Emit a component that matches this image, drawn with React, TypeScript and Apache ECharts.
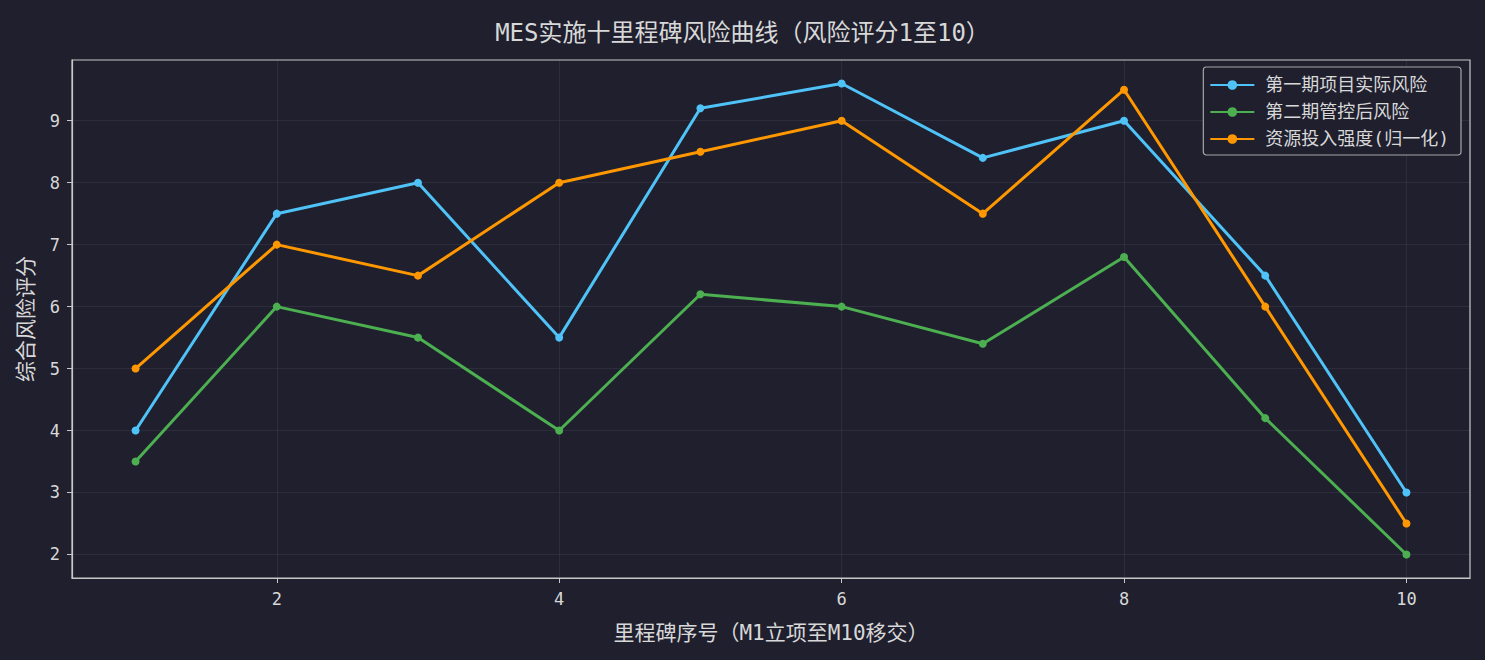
import React, { useEffect, useRef } from 'react';
import * as echarts from 'echarts';

const milestones = [1, 2, 3, 4, 5, 6, 7, 8, 9, 10];
const phaseOneRisk = [4, 7.5, 8, 5.5, 9.2, 9.6, 8.4, 9.0, 6.5, 3.0];
const phaseTwoRisk = [3.5, 6, 5.5, 4, 6.2, 6, 5.4, 6.8, 4.2, 2.0];
const resourceIntensity = [5, 7, 6.5, 8, 8.5, 9, 7.5, 9.5, 6, 2.5];
const xTicks = [2, 4, 6, 8, 10];
const yTicks = [2, 3, 4, 5, 6, 7, 8, 9];

const seriesNames = ['第一期项目实际风险', '第二期管控后风险', '资源投入强度(归一化)'];
const seriesColors = ['#4fc3f7', '#4caf50', '#ff9800'];

const FONT = '"DejaVu Sans Mono", "Noto Sans CJK SC", monospace';
const TEXT = '#d8d8d8';
const FRAME = '#c8c8c8';
const GRID = 'rgba(255,255,255,0.06)';
const BG = '#1f1f2e';

const App: React.FC = () => {
  const chartRef = useRef<HTMLDivElement>(null);

  useEffect(() => {
    document.body.style.margin = '0';
    document.body.style.background = BG;
    if (!chartRef.current) return;
    const chart = echarts.init(chartRef.current, null, { renderer: 'svg' });

    const toPairs = (vals: number[]) => milestones.map((m, i) => [m, vals[i]]);
    const datasets = [phaseOneRisk, phaseTwoRisk, resourceIntensity];

    const option: echarts.EChartsOption = {
      animation: false,
      backgroundColor: BG,
      textStyle: { fontFamily: FONT },
      title: {
        text: 'MES实施十里程碑风险曲线（风险评分1至10）',
        left: 'center',
        top: 16,
        textStyle: { color: TEXT, fontSize: 24, fontWeight: 'normal', fontFamily: FONT }
      },
      legend: {
        orient: 'vertical',
        right: 24,
        top: 67,
        padding: [9, 12, 7, 6],
        itemGap: 9,
        itemWidth: 44,
        itemHeight: 12,
        borderColor: 'rgba(200,200,200,0.8)',
        borderWidth: 1.2,
        borderRadius: 3,
        backgroundColor: BG,
        textStyle: { color: TEXT, fontSize: 18, fontFamily: FONT, padding: [0, 0, 0, 6] },
        data: seriesNames
      },
      grid: {
        left: 72,
        right: 15,
        top: 60,
        bottom: 82,
        show: true,
        borderColor: FRAME,
        borderWidth: 1.2,
        backgroundColor: BG
      },
      xAxis: {
        type: 'value',
        min: 0.55,
        max: 10.45,
        name: '里程碑序号（M1立项至M10移交）',
        nameLocation: 'middle',
        nameGap: 44,
        nameTextStyle: { color: TEXT, fontSize: 21, fontFamily: FONT },
        axisLine: { show: true, lineStyle: { color: FRAME, width: 1.2 } },
        axisTick: { show: true, customValues: xTicks, length: 5, lineStyle: { color: FRAME } },
        axisLabel: { customValues: xTicks, color: TEXT, fontSize: 17, margin: 12, fontFamily: FONT },
        splitLine: { show: true, lineStyle: { color: GRID, width: 1 } }
      },
      yAxis: {
        type: 'value',
        min: 1.62,
        max: 9.98,
        name: '综合风险评分',
        nameLocation: 'middle',
        nameGap: 36,
        nameTextStyle: { color: TEXT, fontSize: 21, fontFamily: FONT },
        axisLine: { show: true, lineStyle: { color: FRAME, width: 1.2 } },
        axisTick: { show: true, customValues: yTicks, length: 5, lineStyle: { color: FRAME } },
        axisLabel: { customValues: yTicks, color: TEXT, fontSize: 17, margin: 12, fontFamily: FONT },
        splitLine: { show: true, lineStyle: { color: GRID, width: 1 } }
      },
      series: datasets.map((vals, i) => ({
        name: seriesNames[i],
        type: 'line',
        data: toPairs(vals),
        symbol: 'circle',
        symbolSize: 8,
        lineStyle: { color: seriesColors[i], width: 3 },
        itemStyle: { color: seriesColors[i] }
      }))
    };

    chart.setOption(option);
    return () => chart.dispose();
  }, []);

  return <div ref={chartRef} style={{ width: 1485, height: 660 }} />;
};

export default App;
